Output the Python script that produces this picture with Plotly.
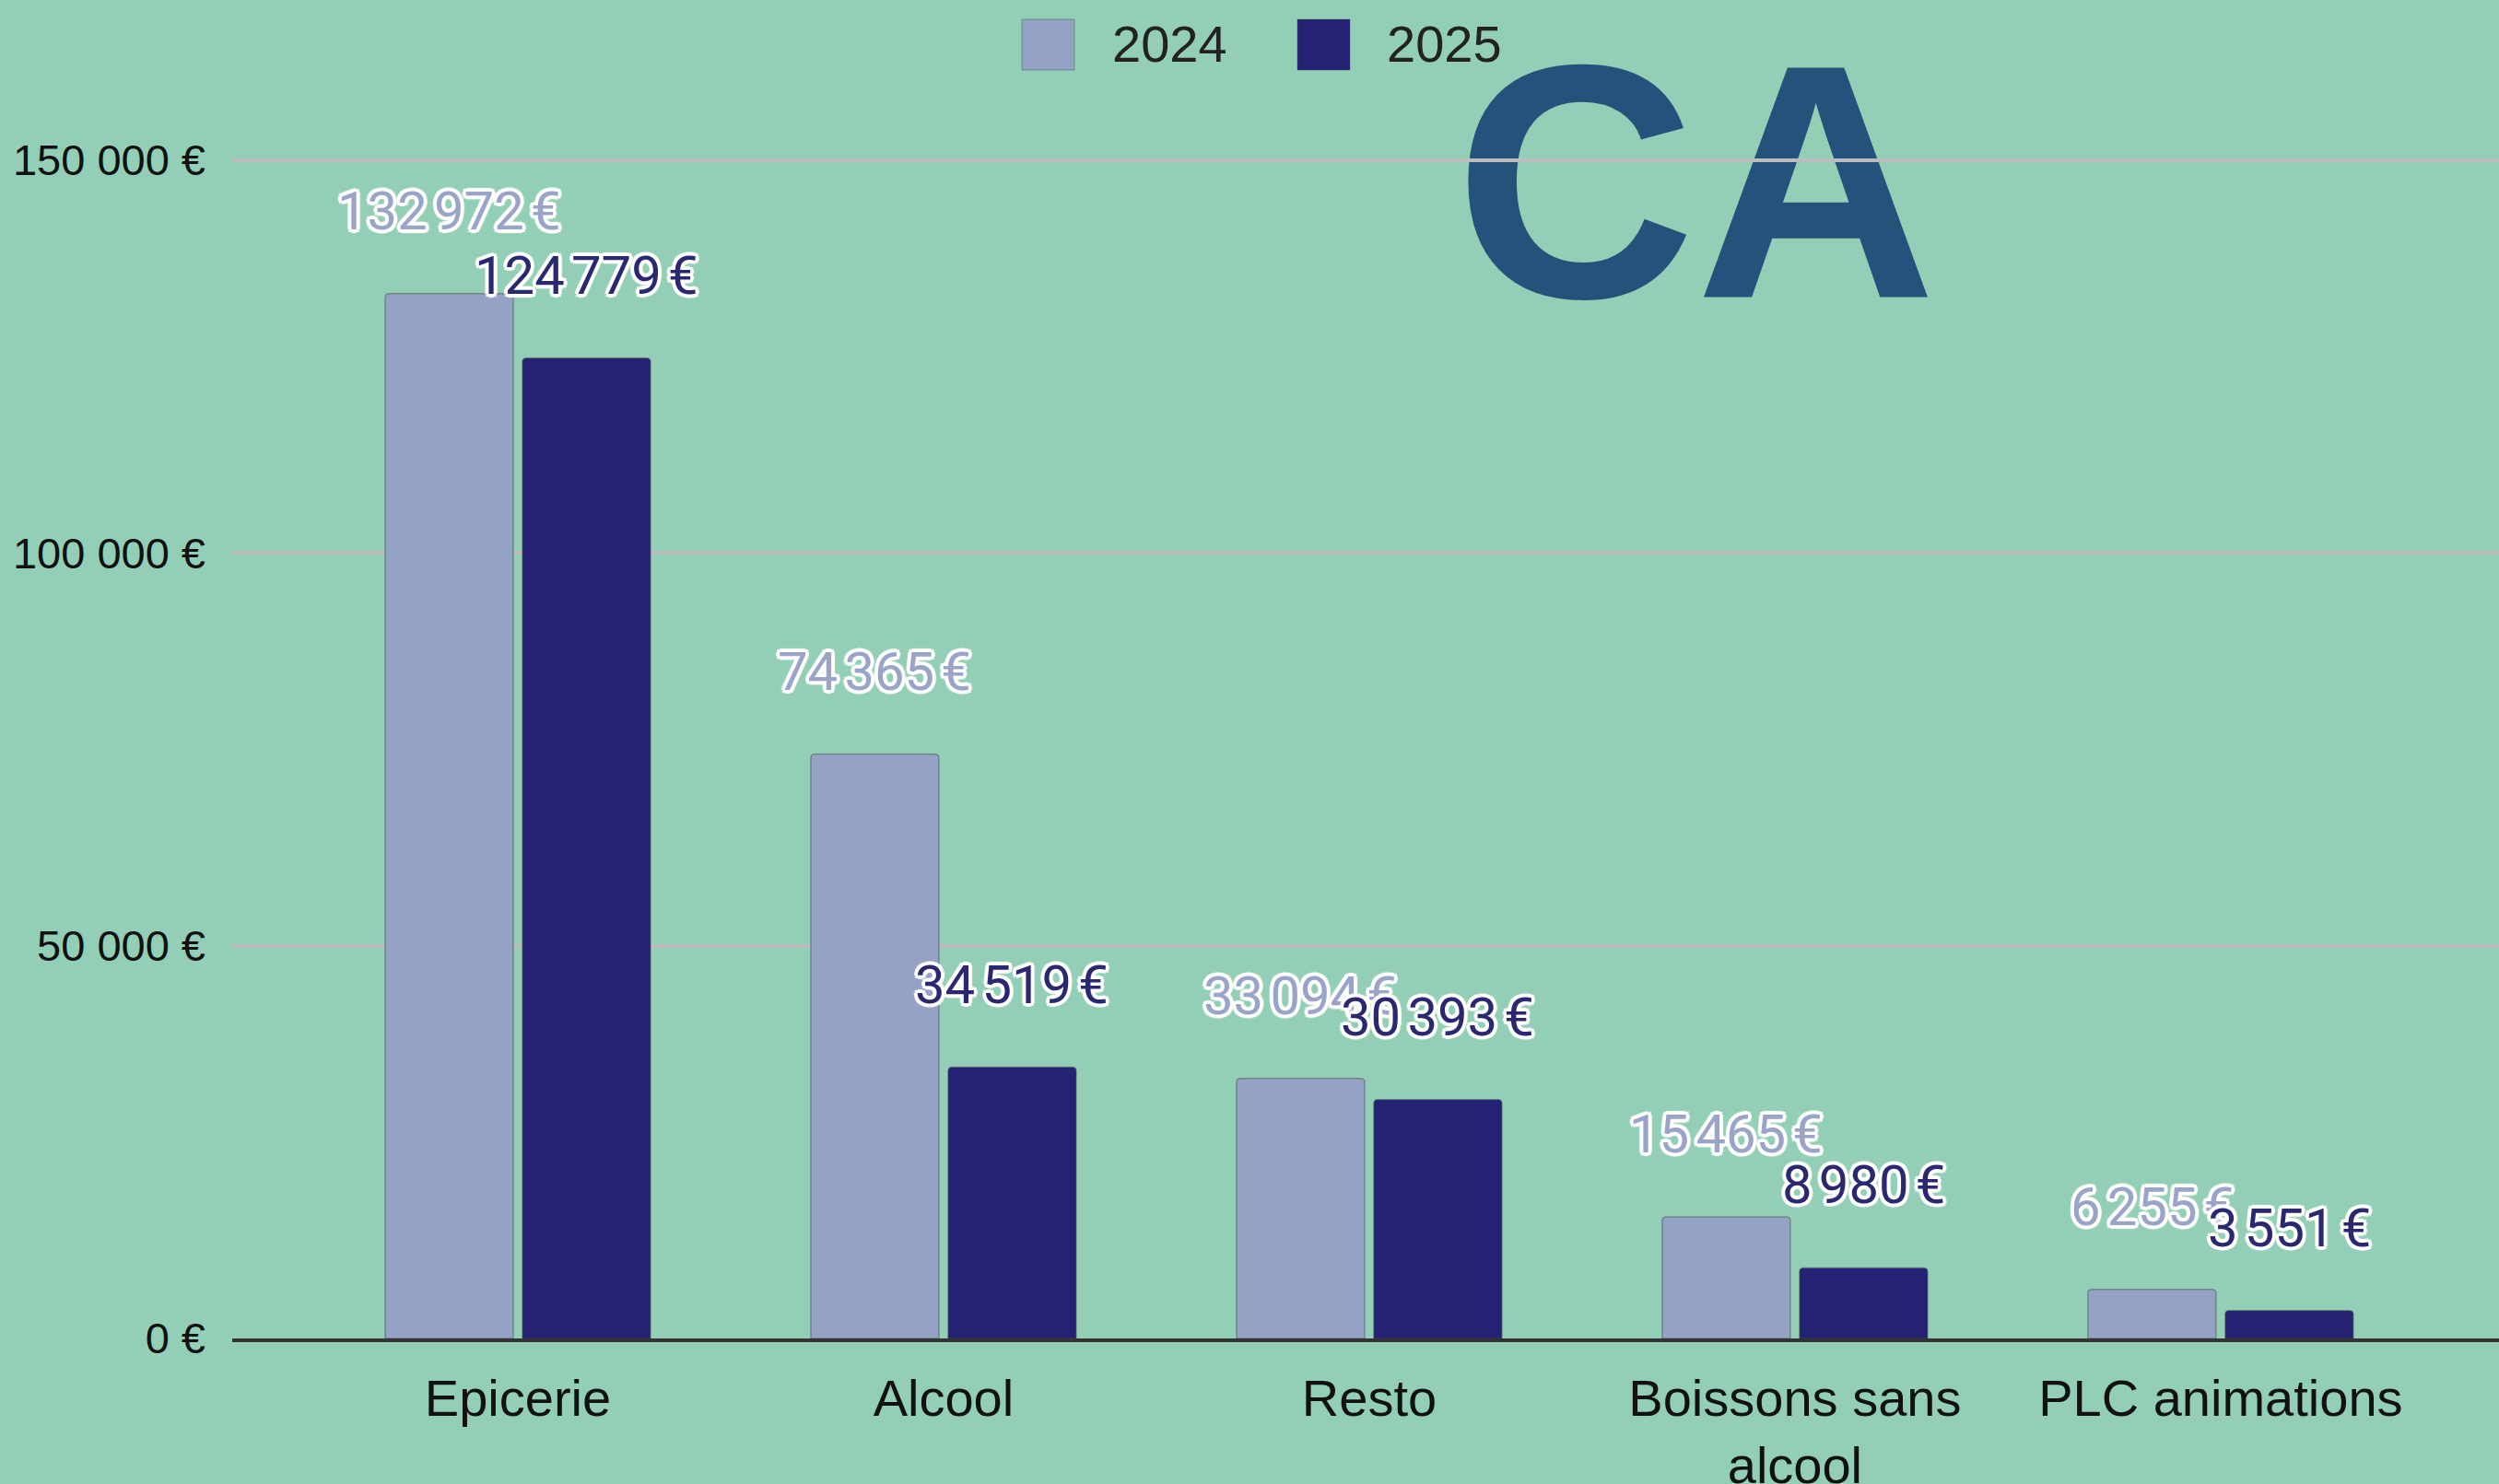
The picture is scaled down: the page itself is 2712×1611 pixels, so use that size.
import plotly.graph_objects as go

# données CA par rayon
categories = ["Epicerie", "Alcool", "Resto", "Boissons sans<br>alcool", "PLC animations"]
ca_2024 = [132972, 74365, 33094, 15465, 6255]
ca_2025 = [124779, 34519, 30393, 8980, 3551]
years = ["2024", "2025"]
y_ticks = [0, 50000, 100000, 150000]

bg = "#93cfb6"
col_2024 = "#94a3c5"
col_2025 = "#252276"
lbl_2024 = "#9aa4c8"
lbl_2025 = "#2b2872"

W_FIG, H_FIG = 2712, 1611
L, R, T, B = 252, 0, 0, 158
PW, PH = W_FIG - L - R, H_FIG - T - B

BARGAP = 0.355
BARGROUPGAP = 0.067


def px2x(px):
    return (px - L) / PW


def px2y(py):
    return (H_FIG - B - py) / PH


def euro(v, sep=" "):
    return f"{v:,}".replace(",", sep) + sep + "€"


halo = ", ".join(f"white {dx}px {dy}px 1px" for dx, dy in
                 [(4, 0), (-4, 0), (0, 4), (0, -4), (3, 3), (-3, -3), (3, -3), (-3, 3)])

fig = go.Figure()
for name, vals, col in [(years[0], ca_2024, col_2024), (years[1], ca_2025, col_2025)]:
    fig.add_trace(go.Bar(
        x=categories, y=vals, name=name,
        marker=dict(color=col, line=dict(color="rgba(70,70,70,0.45)", width=1.5), cornerradius=4),
        hoverinfo="x+y",
    ))

# étiquettes de valeurs au-dessus des barres
off = (1 - BARGAP) / 4
annots = []
for sign, vals, col in [(-1, ca_2024, lbl_2024), (1, ca_2025, lbl_2025)]:
    for i, v in enumerate(vals):
        annots.append(dict(
            x=i + sign * off, y=v, xref="x", yref="y",
            text=euro(v, "\u202f"), showarrow=False,
            yanchor="middle", yshift=90,
            font=dict(family="Roboto", size=58, color=col, shadow=halo),
        ))

# légende dessinée à la main (carrés plus grands que ceux de plotly)
shapes = []
for x0, x1, tx, name, col in [(1109, 1166, 1205, years[0], col_2024), (1408, 1465, 1503, years[1], col_2025)]:
    shapes.append(dict(type="rect", xref="paper", yref="paper",
                       x0=px2x(x0), x1=px2x(x1), y0=px2y(76), y1=px2y(21),
                       fillcolor=col, line=dict(color="rgba(70,70,70,0.4)", width=1)))
    annots.append(dict(x=px2x(tx), y=px2y(48), xref="paper", yref="paper",
                       text=name, showarrow=False, xanchor="left", yanchor="middle",
                       font=dict(family="Liberation Sans", size=56, color="#222222")))

# gros titre "CA", sous les lignes de grille
shapes.append(dict(type="rect", xref="paper", yref="paper", layer="below",
                   x0=px2x(1560), x1=px2x(2120), y0=px2y(303), y1=px2y(23),
                   line=dict(width=0), fillcolor="rgba(0,0,0,0)",
                   label=dict(text="CA", textposition="middle center",
                              font=dict(family="Liberation Sans", size=362, color="#24527a", weight=700))))

fig.update_layout(
    width=W_FIG, height=H_FIG,
    margin=dict(l=L, r=R, t=T, b=B, autoexpand=False),
    paper_bgcolor=bg, plot_bgcolor=bg,
    barmode="group", bargap=BARGAP, bargroupgap=BARGROUPGAP,
    showlegend=False,
    annotations=annots, shapes=shapes,
    font=dict(family="Liberation Sans", color="#111111"),
)
fig.update_xaxes(
    range=[-0.671, 4.654], showgrid=False, ticks="", automargin=False,
    tickfont=dict(family="Liberation Sans", size=56, color="#111111"),
    showline=True, linecolor="#333333", linewidth=4,
    ticklabelstandoff=13,
)
fig.update_yaxes(
    range=[0, 170352], tickvals=y_ticks, ticktext=[euro(v) for v in y_ticks],
    showgrid=True, gridcolor="#bcbcbc", gridwidth=4, zeroline=False, automargin=False,
    ticks="", tickfont=dict(family="Liberation Sans", size=47, color="#111111"),
    ticklabelstandoff=28,
)

fig.write_html("out.html", config={"displayModeBar": False},
               post_script="document.body.style.margin='0';")
